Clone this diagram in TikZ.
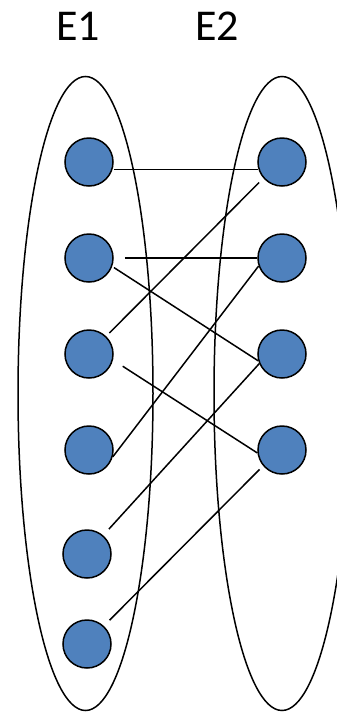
\documentclass[tikz,border=0pt]{standalone}
\usepackage{fontspec}
\setmainfont{Carlito}
\usetikzlibrary{arrows}
\definecolor{nodeblue}{HTML}{4F81BD}

\begin{document}
\begin{tikzpicture}[x=1pt,y=-1pt,line width=1.5pt,node distance=96pt,main node/.style={circle,draw,fill=nodeblue,minimum size=48pt,inner sep=0pt},set label/.style={font=\fontsize{44}{50}\selectfont,anchor=base}]
		\useasboundingbox (0,0) rectangle (337,713);
		% the two sets
		\draw (85.5,393.5) ellipse (67.5 and 317);
		\draw (282,393.5) ellipse (68 and 317);
		\node[set label] (e1) at (78,40) {E1};
		\node[set label] (e2) at (217,40) {E2};
		
		\node[main node] (a1) at (89,162) {};
		\node[main node] (a2) [below of=a1] {};
		\node[main node] (a3) [below of=a2] {};
		\node[main node] (a4) [below of=a3] {};
		\node[main node] (a5) at (87,554) {};
		\node[main node] (a6) at (87,644) {};
		
		\node[main node] (b1) [right of=a1,node distance=193pt] {};
		\node[main node] (b2) [below of=b1] {};
		\node[main node] (b3) [below of=b2] {};
		\node[main node] (b4) [below of=b3] {};
		
		\path
		    (a1.-18) edge[shorten <=1.5pt] (b1.198)
		    (a2.east) edge[shorten <=11pt] (b2.west)
		    (a2.-20) edge[shorten <=2pt] (b3.196)
		    (a3.46) edge[shorten <=4.5pt,shorten >=6pt] (b1.221)
		    (a3.-14) edge[shorten <=11.5pt] (b4.187)
		    (a4.-16) edge (b2.199)
		    (a5.49) edge[shorten <=8.5pt] (b3.203)
		    (a6.47) edge[shorten <=8pt,shorten >=5pt] (b4.220);
		\end{tikzpicture}
\end{document}
